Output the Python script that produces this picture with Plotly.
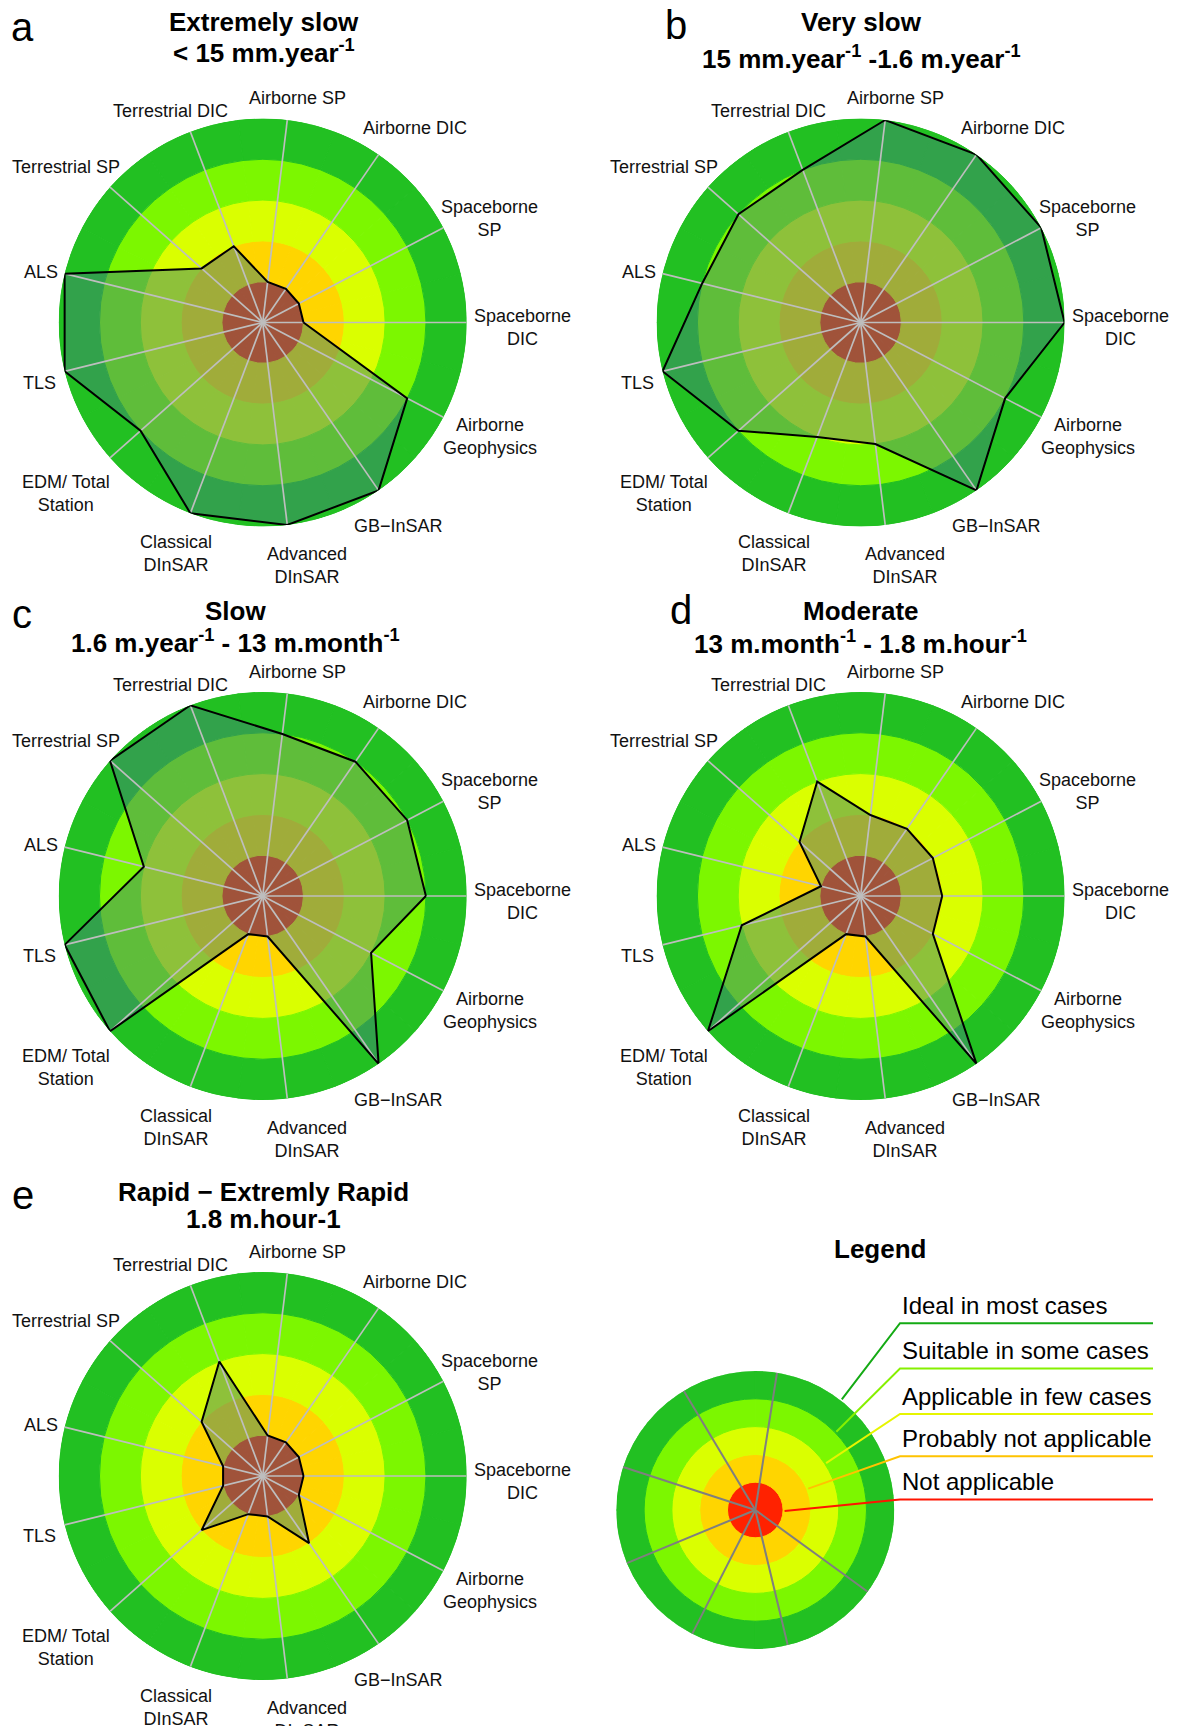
import math
import plotly.graph_objects as go

W, H = 1181, 1726
OFF = 8  # the page body adds an 8px margin around the figure
FONT = "Liberation Sans, Arial, sans-serif"

# axes, counter-clockwise starting at 3 o'clock
CATEGORIES = ["Spaceborne DIC", "Spaceborne SP", "Airborne DIC", "Airborne SP",
              "Terrestrial DIC", "Terrestrial SP", "ALS", "TLS", "EDM/ Total Station",
              "Classical DInSAR", "Advanced DInSAR", "GB−InSAR", "Airborne Geophysics"]
AXIS_LABELS = ["Spaceborne<br>DIC", "Spaceborne<br>SP", "Airborne DIC", "Airborne SP",
               "Terrestrial DIC", "Terrestrial SP", "ALS", "TLS", "EDM/ Total<br>Station",
               "Classical<br>DInSAR", "Advanced<br>DInSAR", "GB−InSAR", "Airborne<br>Geophysics"]

# suitability score 1..5 per technique
EXTREMELY_SLOW = [1, 1, 1, 1, 2, 2, 5, 5, 4, 5, 5, 5, 4]
VERY_SLOW = [5, 5, 5, 5, 4, 4, 4, 5, 4, 3, 3, 5, 4]
SLOW = [4, 4, 4, 4, 5, 5, 3, 5, 5, 1, 1, 5, 3]
MODERATE = [2, 2, 2, 2, 3, 2, 1, 3, 5, 1, 1, 5, 2]
RAPID = [1, 1, 1, 1, 3, 2, 1, 1, 2, 1, 1, 2, 1]

PANEL_LETTERS = ["a", "b", "c", "d", "e"]
TITLE_LINE1 = ["Extremely slow", "Very slow", "Slow", "Moderate", "Rapid − Extremly Rapid"]
TITLE_LINE2 = ["&lt; 15 mm.year<sup>-1</sup>",
               "15 mm.year<sup>-1</sup> -1.6 m.year<sup>-1</sup>",
               "1.6 m.year<sup>-1</sup> - 13 m.month<sup>-1</sup>",
               "13 m.month<sup>-1</sup> - 1.8 m.hour<sup>-1</sup>",
               "1.8 m.hour-1"]

LEVELS = ["Not applicable", "Probably not applicable", "Applicable in few cases",
          "Suitable in some cases", "Ideal in most cases"]
RING_COLORS = ["#FF2200", "#FFD500", "#DAFF00", "#7CF700", "#22C022"]
LEADER_COLORS = ["#FF1400", "#FFC300", "#E6F500", "#86F000", "#14AA14"]
LEGEND_SPOKES = [81, 121, 162, 202.5, 243, 283.5, 324]

FILL = "rgba(65,132,116,0.5)"
SPOKE = "#BEBEBE"

# ---- geometry (pixels) ----
PANEL_CENTERS = [(262.7, 322.5), (860.6, 322.5), (262.7, 896), (860.6, 896), (262.7, 1476)]
RING_R = 204
# label centre offsets from the target centre, same order as CATEGORIES
LABEL_OFFSETS = [(260, 5), (227, -104), (152, -194), (35, -224), (-92, -211), (-197, -155),
                 (-222, -51), (-223, 60), (-197, 171), (-87, 231), (44, 243), (136, 204),
                 (227, 114)]
TITLE_POS = [(263.5, 22, 51.5), (861, 22.5, 57.8), (235, 610.5, 641),
             (860.6, 611, 642), (263, 1192, 1219)]
LETTER_POS = [(22.5, 27), (676, 25), (22.5, 614), (681, 610), (23, 1195)]

LEG_CX, LEG_CY, LEG_R = 755.3, 1510, 139
LEADER_ANGLES = [-2, 22, 33.5, 44, 52]
LEADER_Y = [1499.4, 1456.3, 1414, 1368.5, 1323.2]
ELBOW_X, END_X = 900, 1153


def px(x):
    return (x - OFF) / W


def py(y):
    return 1 - (y - OFF) / H


def domain(cx, cy, r):
    return dict(x=[px(cx - r), px(cx + r)], y=[py(cy + r), py(cy - r)])


fig = go.Figure()
layout = {}
annotations = []
shapes = []

series = [EXTREMELY_SLOW, VERY_SLOW, SLOW, MODERATE, RAPID]
n = len(CATEGORIES)
for i, vals in enumerate(series):
    sp = "polar" if i == 0 else f"polar{i + 1}"
    cx, cy = PANEL_CENTERS[i]

    # coloured rings: one stacked barpolar trace per suitability level
    for lvl, col in enumerate(RING_COLORS):
        fig.add_trace(go.Barpolar(r=[1] * n, theta=CATEGORIES, subplot=sp,
                                  marker=dict(color=col, line=dict(color=col, width=1)),
                                  hoverinfo="skip", showlegend=False))

    closed_r = vals + [vals[0]]
    closed_t = CATEGORIES + [CATEGORIES[0]]
    fig.add_trace(go.Scatterpolar(r=closed_r, theta=closed_t, subplot=sp, mode="lines",
                                  fill="toself", fillcolor=FILL, line=dict(width=0),
                                  hoverinfo="skip", showlegend=False))

    sr, st = [], []
    for c in CATEGORIES:
        sr += [0, 5, None]
        st += [c, c, None]
    fig.add_trace(go.Scatterpolar(r=sr, theta=st, subplot=sp, mode="lines",
                                  line=dict(color=SPOKE, width=1.7),
                                  hoverinfo="skip", showlegend=False))

    fig.add_trace(go.Scatterpolar(r=closed_r, theta=closed_t, subplot=sp, mode="lines",
                                  line=dict(color="black", width=2),
                                  hoverinfo="skip", showlegend=False))

    layout[sp] = dict(
        domain=domain(cx, cy, RING_R),
        bgcolor="rgba(0,0,0,0)",
        barmode="stack", bargap=0,
        radialaxis=dict(range=[0, 5], visible=False),
        angularaxis=dict(type="category", categoryorder="array", categoryarray=CATEGORIES,
                         rotation=0, direction="counterclockwise", showgrid=False,
                         showline=False, showticklabels=False, ticks=""),
    )

    for lab, (dx, dy) in zip(AXIS_LABELS, LABEL_OFFSETS):
        annotations.append(dict(text=lab, x=px(cx + dx), y=py(cy + dy),
                                font=dict(size=18, family=FONT, color="#111111")))

    tx, ty1, ty2 = TITLE_POS[i]
    annotations.append(dict(text=f"<b>{TITLE_LINE1[i]}</b>", x=px(tx), y=py(ty1),
                            font=dict(size=26, family=FONT, color="black")))
    annotations.append(dict(text=f"<b>{TITLE_LINE2[i]}</b>", x=px(tx), y=py(ty2),
                            font=dict(size=26, family=FONT, color="black")))
    lx, ly = LETTER_POS[i]
    annotations.append(dict(text=PANEL_LETTERS[i], x=px(lx), y=py(ly),
                            font=dict(size=40, family=FONT, color="black")))

# ---- legend target ----
sp = "polar6"
for lvl, col in enumerate(RING_COLORS):
    fig.add_trace(go.Barpolar(r=[1] * 4, theta=[45, 135, 225, 315], width=[90] * 4, subplot=sp,
                              marker=dict(color=col, line=dict(color=col, width=1)),
                              hoverinfo="skip", showlegend=False))
sr, st = [], []
for a in LEGEND_SPOKES:
    sr += [0, 5, None]
    st += [a, a, None]
fig.add_trace(go.Scatterpolar(r=sr, theta=st, subplot=sp, mode="lines",
                              line=dict(color="#7F7F7F", width=2),
                              hoverinfo="skip", showlegend=False))
layout[sp] = dict(
    domain=domain(LEG_CX, LEG_CY, LEG_R),
    bgcolor="rgba(0,0,0,0)",
    barmode="stack", bargap=0,
    radialaxis=dict(range=[0, 5], visible=False),
    angularaxis=dict(type="linear", thetaunit="degrees", rotation=0, direction="counterclockwise",
                     showgrid=False, showline=False, showticklabels=False, ticks=""),
)

for k, level in enumerate(LEVELS):
    r0 = LEG_R * (k + 1) / 5 + 1.5
    ang = math.radians(LEADER_ANGLES[k])
    x0 = LEG_CX + r0 * math.cos(ang)
    y0 = LEG_CY - r0 * math.sin(ang)
    yl = LEADER_Y[k]
    shapes.append(dict(type="path", xref="paper", yref="paper",
                       path=f"M {px(x0)},{py(y0)} L {px(ELBOW_X)},{py(yl)} L {px(END_X)},{py(yl)}",
                       line=dict(color=LEADER_COLORS[k], width=2)))
    annotations.append(dict(text=level, x=px(ELBOW_X), y=py(yl - 2.5), xanchor="left",
                            yanchor="bottom", font=dict(size=24, family=FONT, color="black")))

annotations.append(dict(text="<b>Legend</b>", x=px(880), y=py(1249.2),
                        font=dict(size=26, family=FONT, color="black")))

for a in annotations:
    a.update(xref="paper", yref="paper", showarrow=False)
    a.setdefault("xanchor", "center")
    a.setdefault("yanchor", "middle")

fig.update_layout(
    width=W, height=H, autosize=False,
    margin=dict(l=0, r=0, t=0, b=0),
    paper_bgcolor="white", plot_bgcolor="white",
    showlegend=False,
    annotations=annotations,
    shapes=shapes,
    font=dict(family=FONT),
    **layout,
)

fig.write_html("out.html")
